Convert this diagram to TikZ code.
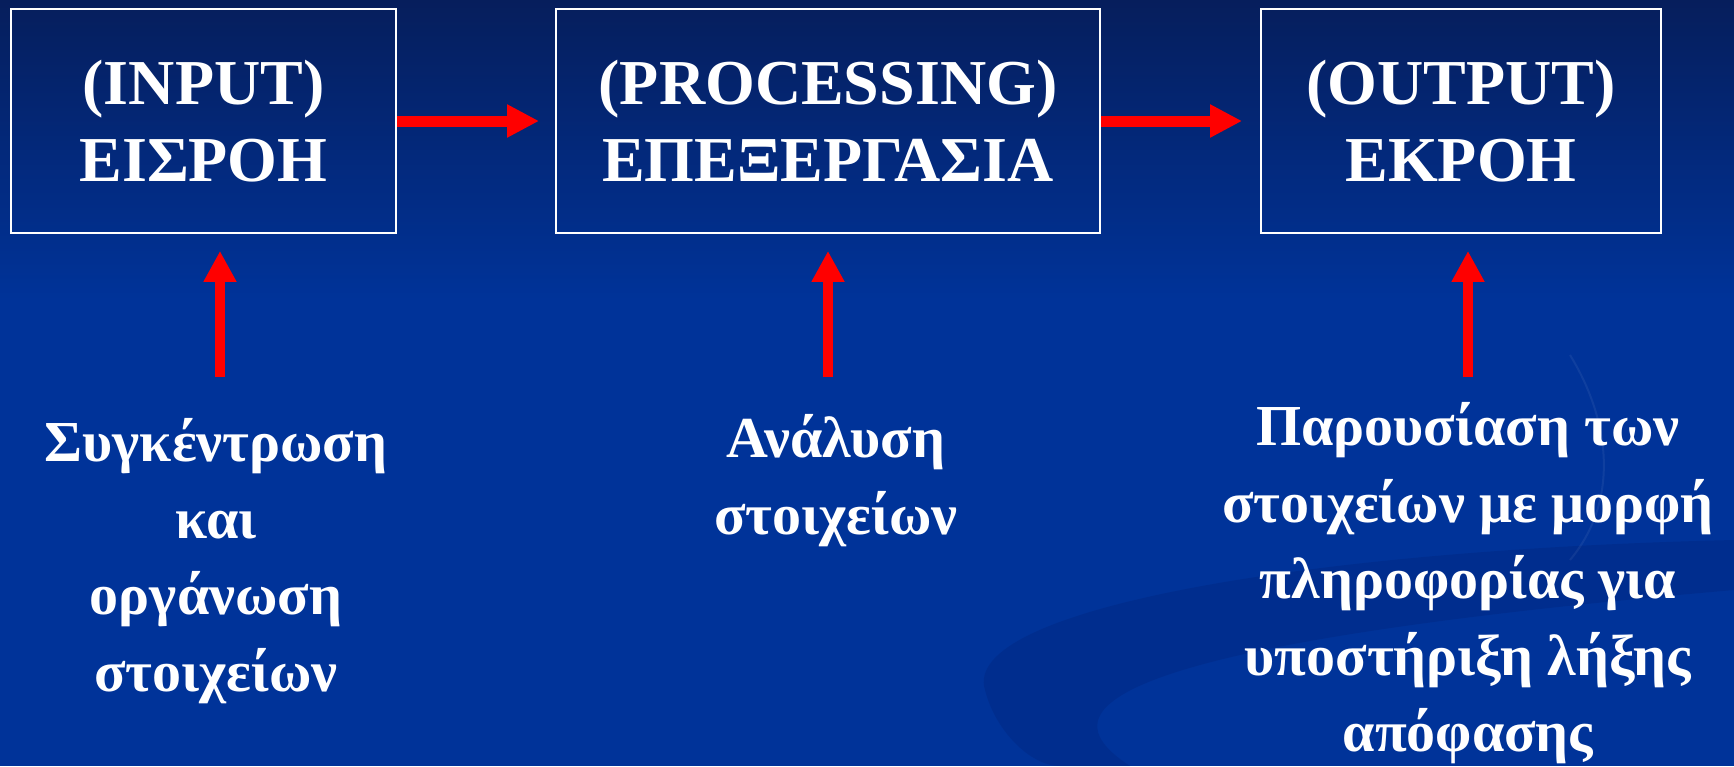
\documentclass[tikz,border=0pt]{standalone}
\usepackage{fontspec}
\setmainfont{Liberation Serif}
\usetikzlibrary{arrows.meta,calc}
\definecolor{bgtop}{RGB}{6,30,92}
\definecolor{bgbot}{RGB}{0,51,153}
\definecolor{swirl}{RGB}{0,30,110}
\begin{document}
\begin{tikzpicture}[x=0.5pt,y=-0.5pt,
  box/.style={draw=white, line width=0.9pt, minimum height=112pt, inner sep=0pt,
    text=white, font=\bfseries\fontsize{32}{38.5}\selectfont, align=center},
  lbl/.style={text=white, font=\bfseries\fontsize{29}{38.3}\selectfont, align=center, inner sep=0pt, anchor=north},
  harr/.style={draw=red, line width=5.5pt, -{Triangle[length=16pt,width=15.5pt,fill=red]}},
  varr/.style={draw=red, line width=5.3pt, -{Triangle[length=15.5pt,width=15.5pt,fill=red]}}]
% background
\shade[top color=bgtop, bottom color=bgbot] (0,0) rectangle (1734,300);
\fill[bgbot] (0,299) rectangle (1734,766);
\useasboundingbox (0,0) rectangle (1734,766);
% swirl decoration
\fill[swirl, opacity=0.25] (1734,540) .. controls (1300,550) and (960,610) .. (985,690)
  .. controls (995,730) and (1030,766) .. (1060,766) -- (1130,766)
  .. controls (1060,720) and (1040,650) .. (1734,590) -- cycle;
\draw[white, opacity=0.06, line width=1pt] (1570,355) .. controls (1610,420) and (1620,500) .. (1570,560);
% boxes
\node[box, minimum width=192.5pt] (b1) at (203.5,121) {(INPUT)\\ΕΙΣΡΟΗ};
\node[box, minimum width=272pt] (b2) at (828,121) {(PROCESSING)\\ΕΠΕΞΕΡΓΑΣΙΑ};
\node[box, minimum width=200pt] (b3) at (1461,121) {(OUTPUT)\\ΕΚΡΟΗ};
% labels
\node[lbl] (l1) at (216,418) {Συγκέντρωση\\και\\οργάνωση\\στοιχείων};
\node[lbl] (l2) at (836,414) {Ανάλυση\\στοιχείων};
\node[lbl] (l3) at (1468,402) {Παρουσίαση των\\στοιχείων με μορφή\\πληροφορίας για\\υποστήριξη λήξης\\απόφασης};
% arrow tails
\coordinate (t1) at (220,377);
\coordinate (t2) at (828,377);
\coordinate (t3) at (1468,377);
% horizontal arrows
\draw[harr] (b1.east) -- ($(b2.west)+(-16,0)$);
\draw[harr] (b2.east) -- ($(b3.west)+(-18,0)$);
% vertical arrows
\draw[varr] (t1) -- ($(t1 |- b1.south)+(0,17)$);
\draw[varr] (t2) -- ($(t2 |- b2.south)+(0,17)$);
\draw[varr] (t3) -- ($(t3 |- b3.south)+(0,17)$);
\end{tikzpicture}
\end{document}
